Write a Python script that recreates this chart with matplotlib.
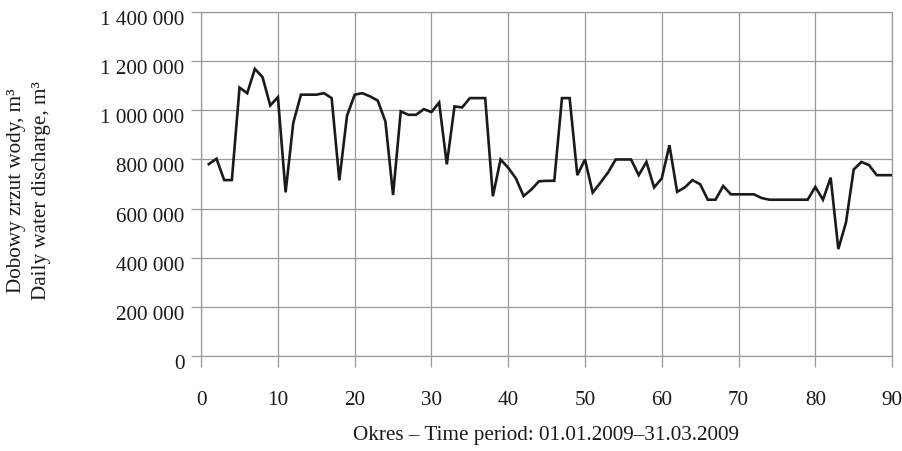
import matplotlib
matplotlib.use("Agg")
import matplotlib.pyplot as plt
import matplotlib.transforms as mtransforms
from matplotlib.ticker import FuncFormatter

# daily water discharge, m3
days = list(range(1, 91))
discharge = [
    781000, 803000, 716000, 716000, 1093000, 1070000, 1169000, 1135000, 1020000, 1054000,
    666000, 949000, 1064000, 1064000, 1064000, 1070000, 1050000, 715000, 978000, 1064000,
    1070000, 1057000, 1040000, 955000, 655000, 996000, 982000, 982000, 1005000, 993000,
    1032000, 780000, 1016000, 1012000, 1050000, 1050000, 1050000, 650000, 800000, 766000,
    723000, 651000, 677000, 711000, 713000, 713000, 1050000, 1050000, 736000, 800000,
    665000, 705000, 747000, 800000, 800000, 800000, 736000, 790000, 686000, 723000,
    858000, 668000, 686000, 716000, 699000, 636000, 636000, 692000, 658000, 658000,
    658000, 658000, 643000, 636000, 636000, 636000, 636000, 636000, 636000, 688000,
    636000, 726000, 435000, 544000, 759000, 790000, 777000, 736000, 736000, 736000,
]
x_ticks = list(range(0, 91, 10))
y_ticks = list(range(0, 1400001, 200000))

plt.rcParams["font.family"] = ["Liberation Serif", "DejaVu Serif"]
fs = 15.2

fig = plt.figure(figsize=(9.02, 4.51), dpi=100)
ax = fig.add_axes([0.223, 0.211, 0.766, 0.762])

ax.plot(days, discharge, color="#1a1a1a", linewidth=1.9, solid_joinstyle="miter")

ax.set_xlim(0, 90)
ax.set_ylim(0, 1400000)
ax.set_xticks(x_ticks)
ax.set_yticks(y_ticks)
ax.yaxis.set_major_formatter(FuncFormatter(lambda v, p: f"{int(v):,}".replace(",", " ")))

ax.grid(True, color="#9a9a9a", linewidth=0.9)
ax.set_axisbelow(True)
for s in ax.spines.values():
    s.set_color("#9a9a9a")
    s.set_linewidth(0.9)

ax.tick_params(axis="y", direction="out", length=7, width=0.9, color="#9a9a9a",
               labelsize=fs, pad=5, labelcolor="#1a1a1a")
ax.tick_params(axis="x", direction="out", length=8, width=0.9, color="#9a9a9a",
               labelsize=fs, pad=17, labelcolor="#1a1a1a")

# y labels sit a little below their gridlines in the original
shift = mtransforms.ScaledTranslation(0, -6 / 100, fig.dpi_scale_trans)
for lab in ax.get_yticklabels():
    lab.set_transform(lab.get_transform() + shift)

fig.text(0.032, 0.578, "Dobowy zrzut wody, m³\nDaily water discharge, m³",
         rotation=90, ha="center", va="center", fontsize=fs, color="#1a1a1a",
         linespacing=1.45)
fig.text(0.605, 0.035, "Okres – Time period: 01.01.2009–31.03.2009",
         ha="center", va="center", fontsize=fs, color="#1a1a1a")

fig.savefig("out.png", dpi=100)
